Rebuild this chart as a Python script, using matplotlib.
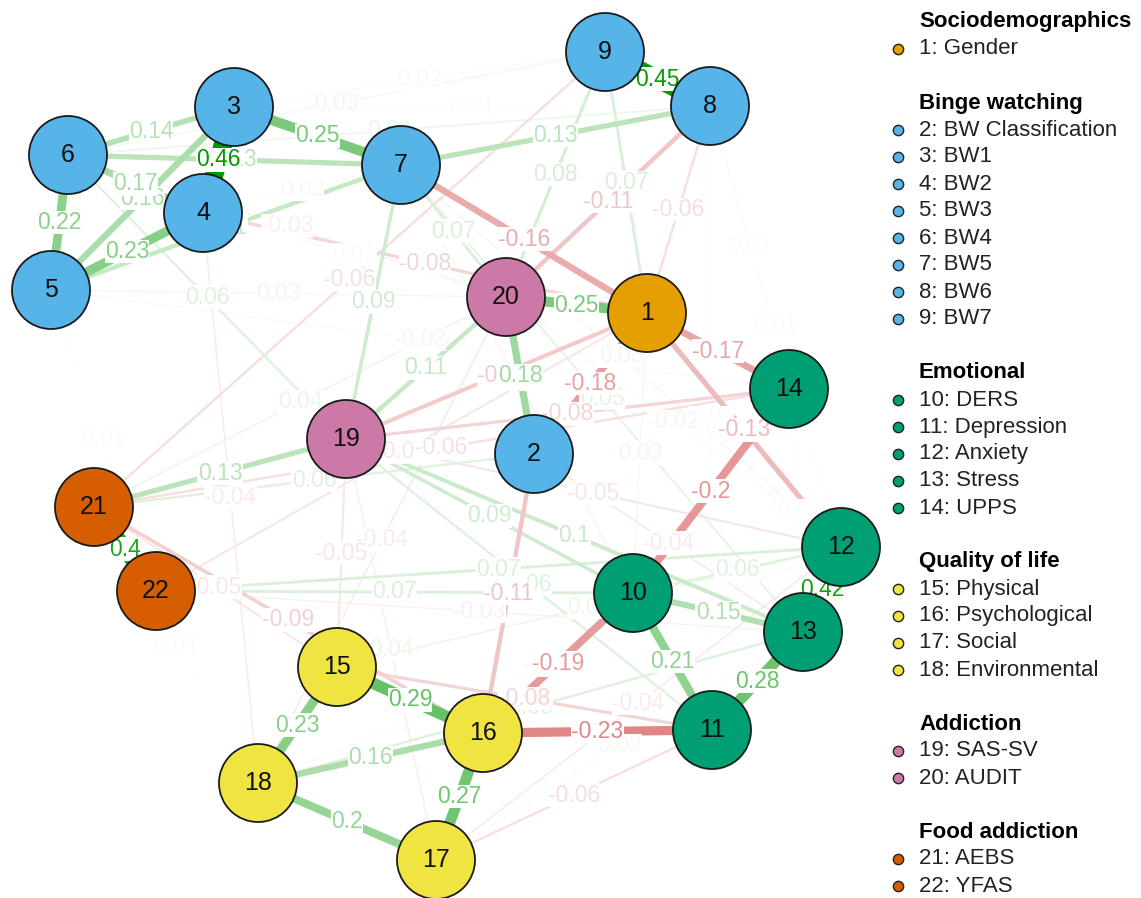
import matplotlib
matplotlib.use("Agg")
import matplotlib.pyplot as plt
from matplotlib.patches import Circle
import numpy as np

plt.rcParams['font.family'] = ['Liberation Sans', 'DejaVu Sans']

# node names and groups
node_names = ["Gender", "BW Classification", "BW1", "BW2", "BW3", "BW4", "BW5", "BW6", "BW7",
              "DERS", "Depression", "Anxiety", "Stress", "UPPS",
              "Physical", "Psychological", "Social", "Environmental",
              "SAS-SV", "AUDIT", "AEBS", "YFAS"]
group_names = ["Sociodemographics", "Binge watching", "Emotional", "Quality of life",
               "Addiction", "Food addiction"]
node_group = [0, 1, 1, 1, 1, 1, 1, 1, 1, 2, 2, 2, 2, 2, 3, 3, 3, 3, 4, 4, 5, 5]
group_cols = ["#E69F00", "#56B4E9", "#009E73", "#F0E442", "#CC79A7", "#D55E00"]

# layout (pixel coords of the reference)
layout_x = [647, 534, 234, 203, 51, 68, 401, 710, 605, 633, 712, 841, 803, 789,
            337, 483, 436, 258, 346, 506, 94, 156]
layout_y = [313, 454, 107, 213, 290, 155, 165, 106, 52, 593, 730, 547, 632, 389,
            667, 733, 860, 783, 439, 297, 507, 591]

# partial correlations (node a, node b, weight)
edge_a = [8, 3, 21, 12, 3, 1, 15, 11, 16, 4, 15, 5, 10, 17, 11, 10, 1, 1, 1, 10,
          1, 8, 1, 1, 9, 7, 3, 6, 6, 3, 6, 4, 3, 4, 5, 1, 9, 6, 7, 19,
          2, 1, 19, 2, 10, 13, 10, 12, 15, 16, 2, 10, 10, 2, 11, 11, 16, 5, 7, 8,
          8, 8, 4, 21, 4, 19, 20, 1, 14, 14, 19, 19, 12, 13, 12, 13, 12, 19, 17, 17,
          13, 20, 1, 7, 7, 7, 5, 4, 5, 6, 21, 3]
edge_b = [9, 4, 22, 13, 7, 20, 16, 13, 17, 5, 18, 6, 11, 18, 16, 16, 14, 7, 2, 14,
          12, 20, 8, 9, 20, 8, 9, 9, 8, 6, 7, 6, 5, 7, 7, 4, 21, 19, 19, 20,
          20, 19, 21, 21, 19, 19, 22, 22, 21, 21, 16, 13, 12, 13, 17, 15, 18, 22, 20, 14,
          12, 11, 18, 20, 20, 15, 18, 22, 21, 19, 11, 17, 15, 22, 18, 18, 17, 12, 13, 12,
          14, 12, 10, 12, 13, 10, 14, 20, 20, 20, 18, 8]
edge_w = [0.45, 0.46, 0.40, 0.42, 0.25, 0.25, 0.29, 0.28, 0.27, 0.23, 0.23, 0.22, 0.21, 0.2,
          -0.23, -0.19, -0.17, -0.16, -0.18, -0.2,
          -0.13, -0.11, -0.06, 0.07, 0.08, 0.13, 0.02, 0.03, 0.04, 0.14, 0.13, 0.17, 0.16, 0.02,
          0.11, -0.08, -0.06, 0.06, 0.09, 0.11,
          0.18, -0.1, 0.13, 0.06, 0.09, 0.1, 0.07, 0.07, -0.05, -0.09, -0.11, 0.15, 0.06, -0.04,
          -0.06, -0.08, 0.16, 0.01, 0.07, 0.01,
          0.01, 0.01, -0.04, 0.04, 0.01, -0.05, -0.04, -0.05, -0.06, -0.08, 0.06, 0.04, 0.04,
          -0.03, -0.02, 0.06, -0.04, -0.05, 0.02, 0.01,
          -0.01, -0.02, 0.03, 0.03, 0.05, 0.03, -0.02, 0.01, 0.03, -0.03, 0.01, 0.01]

W, H = 1141, 898
fig = plt.figure(figsize=(W / 100, H / 100), dpi=100)
ax = fig.add_axes([0, 0, 1, 1])
ax.set_xlim(0, W)
ax.set_ylim(H, 0)
ax.axis('off')

pos_col = np.array([0, 153, 0]) / 255.0
neg_col = np.array([191, 0, 0]) / 255.0
wmax = 0.46
px = 72.0 / 100  # points per pixel

order = np.argsort(np.abs(edge_w))
for k, i in enumerate(order):
    a = edge_a[i] - 1
    b = edge_b[i] - 1
    w = edge_w[i]
    f = min(1.0, abs(w) / wmax * 0.95 + 0.05 * (abs(w) > 0.3))
    base = pos_col if w > 0 else neg_col
    col = 1 - f * (1 - base)
    lw = max(0.6, 40 * abs(w)) * px
    ax.plot([layout_x[a], layout_x[b]], [layout_y[a], layout_y[b]], color=col,
            lw=lw, solid_capstyle='butt', zorder=1 + k * 0.001)

for k, i in enumerate(order):
    a = edge_a[i] - 1
    b = edge_b[i] - 1
    w = edge_w[i]
    f = min(1.0, abs(w) / wmax * 0.95 + 0.05 * (abs(w) > 0.3))
    base = pos_col if w > 0 else neg_col
    col = 1 - f * (1 - base)
    mx = (layout_x[a] + layout_x[b]) / 2
    my = (layout_y[a] + layout_y[b]) / 2
    ax.text(mx, my, str(round(w, 2)), color=col, fontsize=16.5, ha='center', va='center',
            bbox=dict(facecolor='white', edgecolor='none', pad=0.2), zorder=3 + k * 0.001)

for n in range(len(node_names)):
    c = Circle((layout_x[n], layout_y[n]), 39, facecolor=group_cols[node_group[n]],
               edgecolor='#1a1a1a', lw=1.3, zorder=10)
    ax.add_patch(c)
    ax.text(layout_x[n], layout_y[n], str(n + 1), fontsize=18, ha='center', va='center',
            color='#111111', zorder=11)

# legend
ly = 22
for g in range(len(group_names)):
    ax.text(919, ly, group_names[g], fontsize=16, fontweight='bold', ha='left',
            va='center', zorder=12)
    ly += 27
    for n in range(len(node_names)):
        if node_group[n] == g:
            ax.scatter([898], [ly], s=55, color=group_cols[g], edgecolors='#222222',
                       linewidths=1.0, zorder=12)
            ax.text(919, ly, str(n + 1) + ": " + node_names[n], fontsize=16, ha='left',
                    va='center', color='#222222', zorder=12)
            ly += 27
    ly += 27

fig.savefig("out.png", dpi=100)
